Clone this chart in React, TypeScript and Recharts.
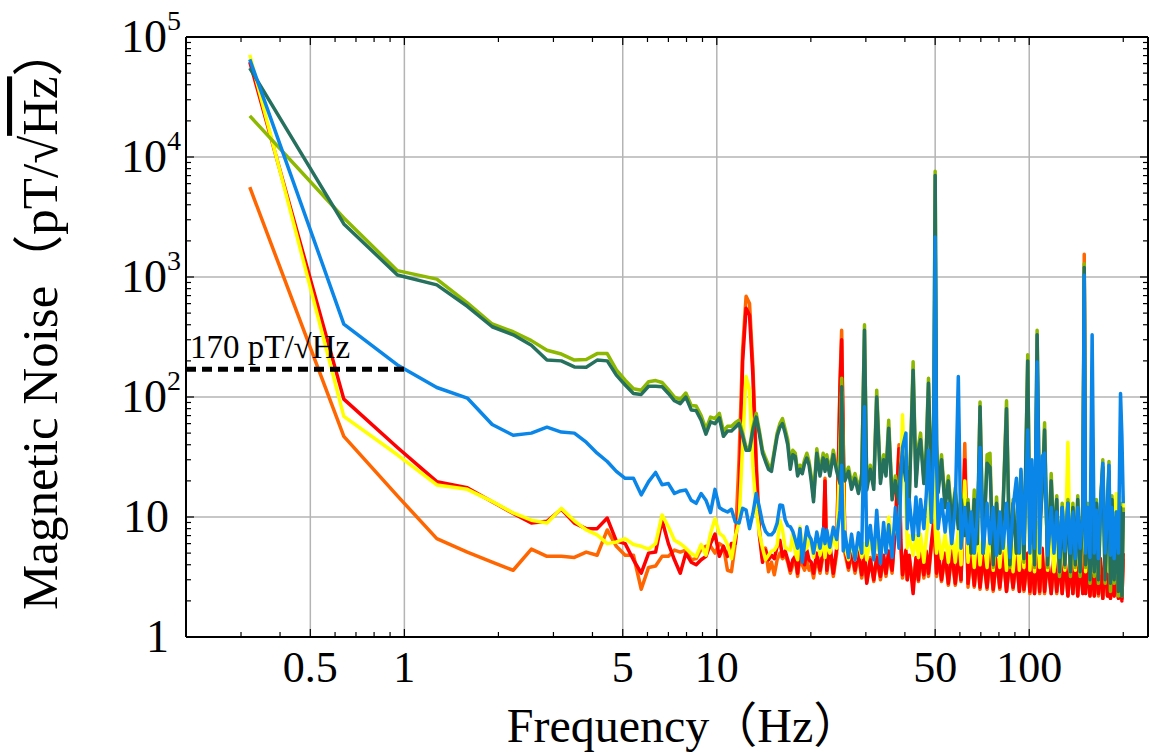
import React from "react";
import {
  ComposedChart,
  Line,
  XAxis,
  YAxis,
  CartesianGrid,
  ReferenceLine,
} from "recharts";

const SERIF = "'Liberation Serif', 'Noto Sans CJK SC', serif";

// Frequency (Hz): every FFT bin up to 20 Hz, a thinner pick above that
const freq = [
  0.32, 0.64, 0.95, 1.27, 1.59, 1.91, 2.23, 2.55, 2.86, 3.18,
  3.5, 3.82, 4.14, 4.46, 4.77, 5.09, 5.41, 5.73, 6.05, 6.37,
  6.68, 7.0, 7.32, 7.64, 7.96, 8.28, 8.59, 8.91, 9.23, 9.55,
  9.87, 10.19, 10.5, 10.82, 11.14, 11.46, 11.78, 12.1, 12.41, 12.73,
  13.05, 13.37, 13.69, 14.01, 14.32, 14.64, 14.96, 15.28, 15.6, 15.92,
  16.23, 16.55, 16.87, 17.19, 17.51, 17.83, 18.14, 18.46, 18.78, 19.1,
  19.42, 19.74, 20.05,
  20.4, 20.9, 21.4, 21.9, 22.2, 22.5, 23.0, 23.6, 24.2, 24.8,
  25.1, 25.4, 25.7, 26.4, 27.0, 27.7, 28.4, 29.1, 29.7, 30.2,
  31.0, 31.8, 32.5, 33.4, 34.2, 34.8, 35.5, 36.4, 37.3, 38.3,
  38.8, 39.3, 40.3, 40.7, 41.3, 42.5, 43.4, 44.2, 44.9, 46.0,
  46.8, 47.6, 48.6, 49.5, 50.0, 50.5, 51.1, 52.4, 53.8, 55.1,
  56.5, 58.0, 59.3, 60.5, 62.2, 63.7, 65.2, 66.7, 68.2, 69.6,
  71.2, 73.3, 74.9, 76.7, 78.6, 80.5, 82.5, 84.6, 86.7, 88.8,
  91.0, 93.0, 94.1, 96.2, 98.9, 100.5, 102, 104, 106, 108,
  110, 112, 114.5, 117.6, 120, 122.5, 125, 127.5, 130, 133,
  135.5, 138, 140.5, 143, 145.5, 148.5, 150, 151.5, 154, 156.5,
  159, 161.5, 164, 166.5, 169, 172, 175, 178, 180, 182,
  184, 187, 190, 193, 196, 198, 200,
];

// pT/sqrt(Hz), one value per frequency above
const orange = [
  5600, 47, 15, 6.6, 5.1, 4.2, 3.6, 5.4, 4.7, 4.7,
  4.6, 5.1, 4.8, 7.8, 5.7, 4.8, 4.8, 2.5, 3.8, 3.9,
  4.7, 4.7, 5.3, 5.1, 5.3, 4.4, 4.5, 5.4, 5.7, 5.7,
  5.0, 6.0, 5.7, 3.6, 3.5, 6.0, 30, 250, 690, 600,
  180, 30, 8, 4.5, 5.5, 3.5, 4.2, 3.3, 4.4, 5.0,
  4.5, 4.8, 4.2, 3.4, 4.0, 4.5, 3.2, 4.6, 4.0, 3.6,
  4.4, 3.6, 3.9,
  3.1, 4.6, 3.4, 4.8, 21, 3.4, 5.4, 3.2, 5.0, 140,
  360, 45, 5, 3.6, 5.0, 3.4, 4.8, 3.1, 4.6, 2.9,
  4.6, 2.9, 4.8, 3.0, 4.6, 3.2, 5.0, 3.4, 9, 40,
  6, 3.1, 5.0, 3.0, 4.5, 2.8, 4.4, 2.9, 4.8, 3.1,
  4.9, 3.2, 5.6, 8, 5.5, 3.2, 5.0, 2.9, 4.8, 2.7,
  5.0, 2.7, 4.8, 2.9, 41, 2.6, 5.0, 2.6, 4.8, 2.5,
  4.6, 2.5, 4.8, 2.4, 4.6, 2.5, 4.8, 2.4, 4.4, 2.5,
  4.6, 2.4, 4.4, 2.4, 4.5, 2.3, 4.6, 2.3, 5.0, 2.3,
  5.0, 2.3, 4.4, 2.3, 4.6, 2.3, 4.3, 2.3, 4.5, 2.2,
  4.4, 2.3, 4.6, 2.2, 4.3, 2.3, 1550, 2.3, 4.4, 2.2,
  4.3, 2.2, 4.6, 2.2, 4.3, 2.1, 4.4, 2.2, 4.2, 2.1,
  4.4, 2.2, 4.2, 2.1, 4.3, 2.1, 4.5,
];

const red = [
  62000, 96, 38, 19.7, 17.5, 13.4, 10.7, 8.9, 9.2, 11.6,
  8.9, 8.0, 8.0, 9.8, 6.3, 6.0, 4.4, 3.4, 5.0, 5.1,
  9.4, 6.0, 4.4, 3.4, 5.0, 4.2, 4.0, 4.4, 4.7, 6.0,
  7.2, 4.7, 5.7, 4.7, 6.0, 6.0, 12, 200, 550, 480,
  150, 25, 7, 4.2, 5.3, 4.4, 4.8, 4.5, 5.7, 6.4,
  4.7, 5.2, 4.4, 3.6, 4.4, 4.7, 3.4, 5.3, 4.7, 4.0,
  5.3, 4.4, 4.2,
  3.4, 5.0, 3.6, 5.3, 20, 3.6, 6.0, 3.4, 5.5, 120,
  300, 40, 5.6, 3.8, 5.4, 3.6, 5.2, 3.3, 5.0, 2.8,
  4.4, 3.0, 4.6, 3.2, 4.8, 3.4, 5.2, 3.6, 8, 37,
  6.5, 3.3, 5.3, 3.0, 4.8, 2.3, 4.6, 3.0, 5.0, 3.3,
  5.2, 3.4, 6, 9.4, 6, 3.4, 5.3, 3.0, 5.0, 2.8,
  5.2, 2.8, 5.0, 3.0, 30, 2.8, 5.2, 2.7, 5.0, 2.6,
  4.8, 2.6, 5.0, 2.5, 4.8, 2.6, 5.0, 2.4, 4.6, 2.6,
  4.8, 2.4, 4.6, 2.5, 5, 2.4, 4.8, 2.3, 5.2, 2.4,
  5.5, 2.4, 4.6, 2.3, 4.8, 2.4, 4.5, 2.3, 4.7, 2.2,
  4.6, 2.3, 4.8, 2.2, 4.5, 2.3, 1100, 2.3, 4.6, 2.2,
  4.4, 2.2, 4.8, 2.3, 4.5, 2.1, 4.6, 2.2, 4.4, 2.1,
  4.6, 2.2, 4.3, 2.1, 4.5, 2.0, 5,
];

const yellow = [
  71000, 69, 33, 18.5, 17, 13.5, 10.8, 9.4, 8.9, 11.8,
  9.3, 7.8, 7.1, 6.0, 6.2, 6.6, 5.9, 5.7, 5.4, 6.0,
  10.4, 8.3, 6.4, 6.0, 5.5, 4.96, 4.7, 5.9, 4.8, 7.3,
  9.7, 7.3, 6.9, 5.9, 4.5, 6.9, 9, 40, 148, 115,
  26, 11.4, 7.3, 5.5, 4.4, 4.8, 5.2, 5.3, 5.8, 9.4,
  7.8, 5.6, 5.4, 5.3, 7.3, 5.0, 4.4, 8.3, 6.0, 5.3,
  5.5, 6.9, 5.8,
  4.6, 7.0, 4.8, 6.6, 4.6, 6.2, 5.0, 6.8, 5.5, 40,
  110, 20, 5.5, 4.4, 6.2, 4.4, 6.5, 4.6, 6.0, 4.4,
  6.4, 4.6, 6.5, 4.8, 7.3, 5.2, 10, 6, 9, 6.5,
  20, 71, 12, 5.5, 7, 4.8, 7, 4.6, 7.2, 4.2,
  6.5, 10, 26, 24, 8, 5, 7.5, 4.5, 7.2, 4.2,
  7.5, 4.2, 7.8, 4, 20, 4.2, 7.5, 3.8, 8, 4,
  7.5, 3.8, 8, 3.6, 7.2, 3.8, 8, 3.6, 7.5, 3.5,
  7.8, 3.6, 8, 3.8, 139, 3.6, 8, 3.5, 9, 3.8,
  26, 32, 3.6, 8, 3.5, 7.8, 3.4, 7.5, 3.6, 42,
  3.5, 7.5, 3.6, 8, 3.4, 7.2, 1150, 3.5, 7.8, 3.4,
  7.5, 3.4, 8, 3.3, 7.6, 20, 3.4, 7.8, 3.5, 7.5,
  3.4, 8, 15.7, 3.4, 7.5, 3.3, 15,
];

const olive = [
  22000, 3100, 1130, 960, 610, 406, 350, 295, 245, 228,
  203, 205, 230, 230, 168, 138, 117, 114, 134, 137,
  132, 115, 100, 95, 108, 85, 84, 70, 54, 68,
  66, 73, 52, 57, 57, 61, 64, 50, 38, 38,
  56, 73, 52, 36, 31, 27, 26, 36, 50, 60,
  66, 54, 44, 27, 36, 34, 24, 27, 25, 30,
  34, 29, 22,
  14.5, 37, 24, 34, 26, 33, 24, 36, 26, 21,
  143, 28, 22, 26, 19, 23, 17, 23, 400, 18.5,
  27, 19, 114, 21, 33, 24, 64, 15, 22, 14,
  28, 35, 22, 26, 15, 197, 20, 39, 50, 21,
  36, 143, 19, 66, 7600, 44, 17, 33, 13, 22,
  10, 17.5, 8.5, 15.5, 7.5, 14, 5, 16.8, 6, 91,
  5, 33, 34, 3.8, 14.7, 5, 13, 93, 3.8, 14,
  5, 15, 24, 4.2, 225, 6, 25, 3.8, 360, 8.5,
  17, 61, 3.8, 23, 6, 15, 3.2, 13, 3.8, 14,
  3.2, 13, 3.8, 15, 3.2, 14, 1290, 3.8, 13, 2.8,
  12, 3.2, 14, 2.8, 13, 30, 2.8, 13, 29, 2.4,
  15, 2.8, 11, 2.2, 13, 2.2, 12,
];

const teal = [
  55000, 2770, 1040, 860, 570, 385, 330, 270, 203, 200,
  178, 177, 203, 200, 152, 126, 107, 105, 123, 123,
  122, 107, 93, 88, 100, 78, 77, 64, 49, 62,
  60, 67, 47, 52, 52, 56, 60, 47, 36, 36,
  53, 68, 49, 34, 29, 25, 24, 34, 47, 56,
  60, 50, 40, 25, 33, 32, 22, 25, 23, 28,
  31, 27, 20,
  13.4, 34, 22, 31, 24, 30, 22, 33, 24, 19,
  122, 26, 20, 24, 17, 21, 15.7, 21, 360, 16.8,
  25, 17, 100, 19, 30, 22, 55, 13.9, 20, 13,
  26, 32, 20, 24, 13.9, 167, 18, 36, 44, 19,
  33, 130, 17, 60, 7000, 40, 16, 30, 12, 20,
  9, 16, 8, 14, 7, 13, 5, 14, 6, 83,
  5, 28, 26, 4, 13, 5, 12, 80, 4, 13,
  5, 14, 21.6, 4.5, 200, 6, 23, 4, 330, 8,
  16, 53, 4, 20, 6, 14, 3.5, 12, 4, 13,
  3.5, 12, 4, 14, 3.5, 13, 1200, 4, 12, 3,
  11, 3.5, 13, 3, 12, 26, 3, 12, 24, 2.8,
  14, 3, 10, 2.4, 12, 2.2, 11,
];

const blue = [
  65000, 405, 185, 120, 98, 59, 48, 50, 56, 51,
  50, 42, 34, 29, 24, 21, 21, 15.3, 19.7, 23.5,
  18.6, 19, 15.7, 16.5, 16.8, 13.8, 13, 15.7, 13.8, 10.9,
  17, 12, 11.4, 11, 11.6, 9.1, 8.9, 11.8, 11.4, 8.0,
  10.7, 15.7, 12, 8.9, 7.6, 7.1, 7.1, 7.6, 8.9, 12.6,
  12.5, 9.5, 8.5, 8.3, 7.6, 6.5, 5.5, 8.0, 4.2, 6.0,
  8.3, 7.0, 6.5,
  5.0, 7.5, 5.5, 8.0, 6.0, 7.8, 5.6, 8.2, 6.5, 11.4,
  27, 5.2, 7.5, 4.6, 7.2, 4.4, 7.4, 5.0, 83, 5.8,
  8.5, 4.4, 11.4, 4.1, 9, 5, 8.6, 4.6, 12, 5.5,
  20, 38, 50, 8, 14, 6.5, 14.7, 7, 14, 8,
  15, 36, 9, 40, 2150, 30, 8, 14, 7.5, 13,
  6, 12, 148, 5.5, 12, 6, 11, 5, 10, 38,
  5, 13, 6, 12, 4.8, 11, 5.5, 13, 4.6, 12,
  21, 5, 25, 6, 53, 5, 30, 5.5, 196, 5,
  32, 34, 4.8, 12, 5, 11, 4.6, 12, 5.2, 13,
  5, 11, 4.5, 12, 5.5, 10, 1040, 5, 12, 4.6,
  330, 5, 11.4, 4.5, 12, 28, 5, 11, 27, 4.8,
  12, 4.5, 11, 5, 107, 47, 13,
];

const threshold = 170;
const thresholdRange = [0.2, 1];

const xMajor = [0.5, 1, 5, 10, 50, 100];
const xMinor = [0.3, 0.4, 0.6, 0.7, 0.8, 0.9, 2, 3, 4, 6, 7, 8, 9, 20, 30, 40, 60, 70, 80, 90, 200];
const yMajor = [1, 10, 100, 1000, 10000, 100000];
const yExp = ["", "", "2", "3", "4", "5"];
const yMinor = [
  2, 3, 4, 5, 6, 7, 8, 9,
  20, 30, 40, 50, 60, 70, 80, 90,
  200, 300, 400, 500, 600, 700, 800, 900,
  2000, 3000, 4000, 5000, 6000, 7000, 8000, 9000,
  20000, 30000, 40000, 50000, 60000, 70000, 80000, 90000,
];

const series = [
  { key: "orange", color: "#FF6600" },
  { key: "red", color: "#FF0000" },
  { key: "yellow", color: "#FFFF00" },
  { key: "olive", color: "#8CB800" },
  { key: "teal", color: "#26705E" },
  { key: "blue", color: "#0A86E8" },
];

const rows = freq.map((f, i) => ({
  f,
  orange: orange[i],
  red: red[i],
  yellow: yellow[i],
  olive: olive[i],
  teal: teal[i],
  blue: blue[i],
}));

const xTicks = [...xMajor, ...xMinor].sort((a, b) => a - b);
const yTicks = [...yMajor, ...yMinor].sort((a, b) => a - b);

// ticks point into the plot, like the matplotlib original
const BottomTick = (props: any) => {
  const { x, y, payload } = props;
  const major = xMajor.includes(payload.value);
  return (
    <g>
      <line x1={x} x2={x} y1={y} y2={y - (major ? 8 : 5)} stroke="#000" strokeWidth={1.2} />
      {major && (
        <text x={x} y={y + 45} textAnchor="middle" fontFamily={SERIF} fontSize={44} fill="#000">
          {String(payload.value)}
        </text>
      )}
    </g>
  );
};

const TopTick = (props: any) => {
  const { x, y, payload } = props;
  const major = xMajor.includes(payload.value);
  return <line x1={x} x2={x} y1={y} y2={y + (major ? 8 : 5)} stroke="#000" strokeWidth={1.2} />;
};

const LeftTick = (props: any) => {
  const { x, y, payload } = props;
  const idx = yMajor.indexOf(payload.value);
  const major = idx >= 0;
  let label = null;
  if (major && yExp[idx] === "") {
    label = (
      <text x={x - 17} y={y + 15} textAnchor="end" fontFamily={SERIF} fontSize={46} fill="#000">
        {String(payload.value)}
      </text>
    );
  } else if (major) {
    label = (
      <text x={x - 5} y={y + 15} textAnchor="end" fontFamily={SERIF} fontSize={46} fill="#000">
        10
        <tspan fontSize={28} dy={-22}>{yExp[idx]}</tspan>
      </text>
    );
  }
  return (
    <g>
      <line x1={x} x2={x + (major ? 8 : 5)} y1={y} y2={y} stroke="#000" strokeWidth={1.2} />
      {label}
    </g>
  );
};

const RightTick = (props: any) => {
  const { x, y, payload } = props;
  const major = yMajor.includes(payload.value);
  return <line x1={x} x2={x - (major ? 8 : 5)} y1={y} y2={y} stroke="#000" strokeWidth={1.2} />;
};

const XTitle = () => (
  <text x={684} y={742} textAnchor="middle" fontFamily={SERIF} fontSize={48} fill="#000">
    Frequency（Hz）
  </text>
);

const YTitle = () => (
  <text transform="translate(57,610) rotate(-90)" fontFamily={SERIF} fontSize={51} fill="#000">
    Magnetic Noise（pT/√<tspan style={{ textDecoration: "overline" }}>Hz</tspan>）
  </text>
);

const ThresholdLabel = (props: any) => {
  const vb = props.viewBox ?? { x: 186, y: 369 };
  return (
    <text x={vb.x + 4} y={vb.y - 11} fontFamily={SERIF} fontSize={33} fill="#000">
      170 pT/√Hz
    </text>
  );
};

const axisLine = { stroke: "#000", strokeWidth: 2 };

export default function App() {
  return (
    <div style={{ position: "absolute", left: 0, top: 0, width: 1150, height: 755, background: "#fff" }}>
      <ComposedChart
        width={1150}
        height={755}
        data={rows}
        margin={{ top: 36, right: 1, bottom: 0, left: 0 }}
      >
        <CartesianGrid
          xAxisId="bottom"
          yAxisId="left"
          stroke="#b4b4b4"
          strokeWidth={1.5}
          verticalValues={xMajor}
          horizontalValues={yMajor}
        />
        <XAxis
          xAxisId="bottom"
          dataKey="f"
          type="number"
          scale="log"
          domain={[0.2, 240]}
          allowDataOverflow
          ticks={xTicks}
          interval={0}
          tickLine={false}
          tickSize={0}
          tickMargin={0}
          height={118}
          axisLine={axisLine}
          tick={BottomTick}
          label={XTitle}
        />
        <XAxis
          xAxisId="top"
          orientation="top"
          dataKey="f"
          type="number"
          scale="log"
          domain={[0.2, 240]}
          allowDataOverflow
          ticks={xTicks}
          interval={0}
          tickLine={false}
          tickSize={0}
          tickMargin={0}
          height={1}
          axisLine={axisLine}
          tick={TopTick}
        />
        <YAxis
          yAxisId="left"
          type="number"
          scale="log"
          domain={[1, 100000]}
          allowDataOverflow
          ticks={yTicks}
          interval={0}
          tickLine={false}
          tickSize={0}
          tickMargin={0}
          width={186}
          axisLine={axisLine}
          tick={LeftTick}
          label={YTitle}
        />
        <YAxis
          yAxisId="right"
          orientation="right"
          type="number"
          scale="log"
          domain={[1, 100000]}
          allowDataOverflow
          ticks={yTicks}
          interval={0}
          tickLine={false}
          tickSize={0}
          tickMargin={0}
          width={1}
          axisLine={axisLine}
          tick={RightTick}
        />
        {series.map((s) => (
          <Line
            key={s.key}
            xAxisId="bottom"
            yAxisId="left"
            type="linear"
            dataKey={s.key}
            stroke={s.color}
            strokeWidth={3.5}
            strokeLinejoin="round"
            dot={false}
            activeDot={false}
            isAnimationActive={false}
          />
        ))}
        <ReferenceLine
          xAxisId="bottom"
          yAxisId="left"
          segment={[
            { x: thresholdRange[0], y: threshold },
            { x: thresholdRange[1], y: threshold },
          ]}
          stroke="#000"
          strokeWidth={5}
          strokeDasharray="10 6"
          ifOverflow="visible"
          label={ThresholdLabel}
        />
      </ComposedChart>
    </div>
  );
}
